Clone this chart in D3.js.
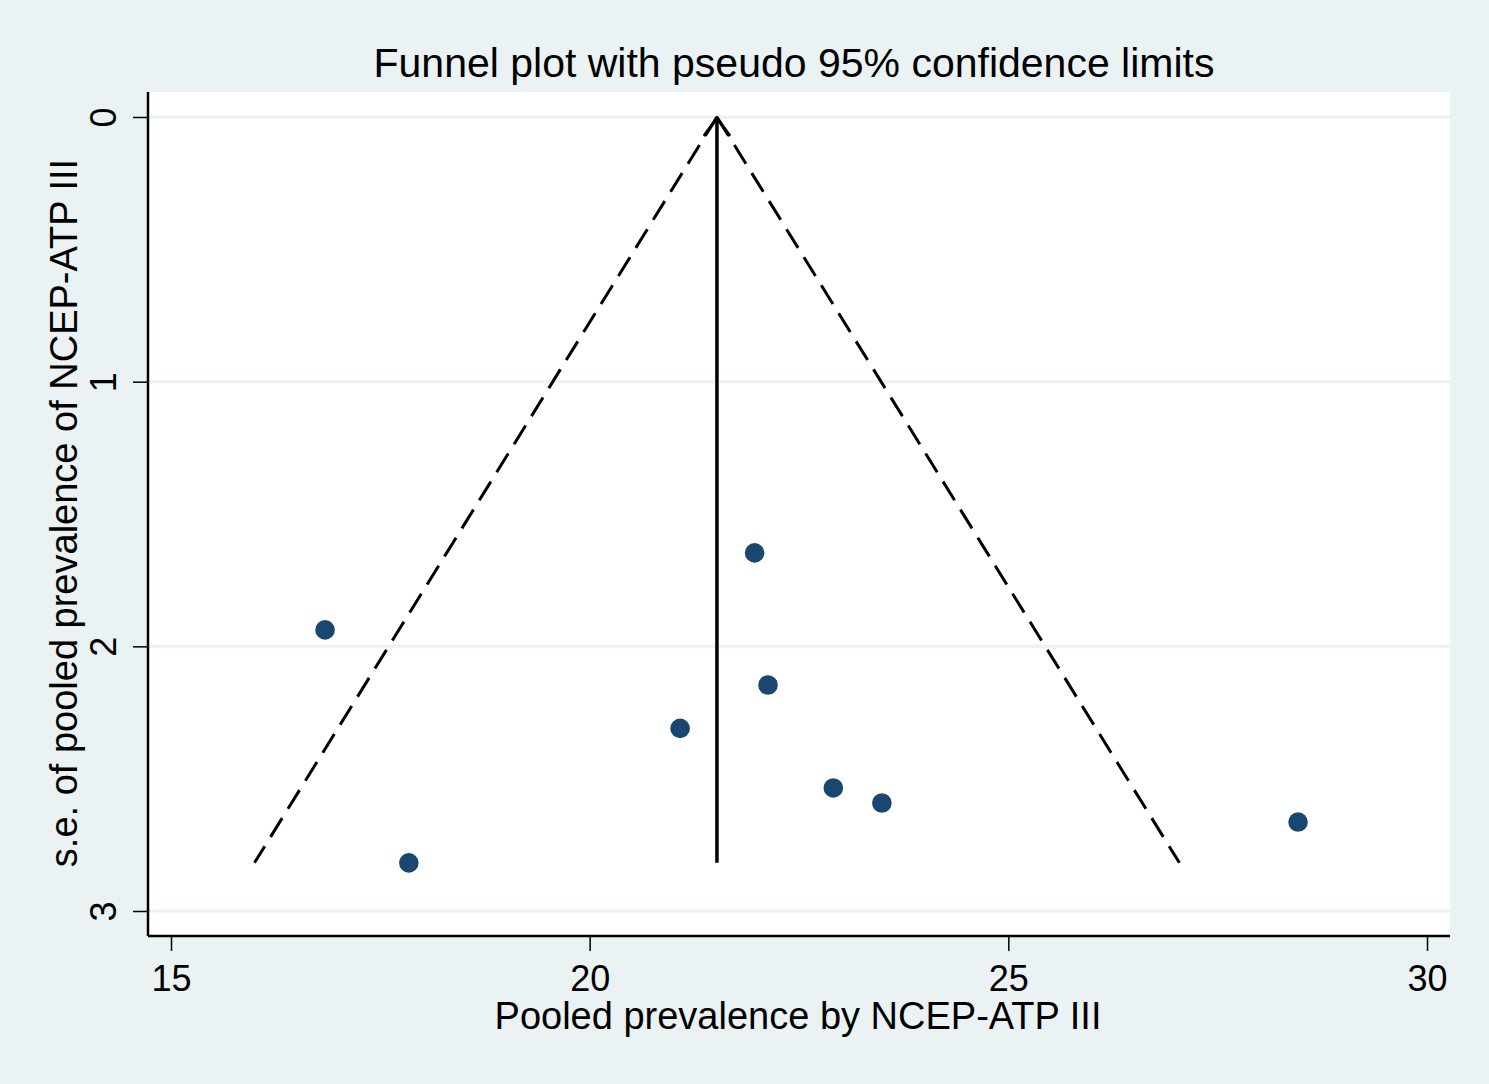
<!DOCTYPE html>
<html><head><meta charset="utf-8">
<script src="https://cdn.jsdelivr.net/npm/d3@7"></script>
<style>body{margin:0;background:#eaf2f3;}svg{display:block;}</style>
</head><body>
<script>
const prevalence = [16.84, 17.84, 21.08, 21.97, 22.13, 22.91, 23.49, 28.46];
const stdErr =     [1.938, 2.818, 2.310, 1.647, 2.146, 2.535, 2.592, 2.664];
const pooled = 21.52;
const xTicks = [15, 20, 25, 30];
const yTicks = [0, 1, 2, 3];
const title = "Funnel plot with pseudo 95% confidence limits";
const xTitle = "Pooled prevalence by NCEP-ATP III";
const yTitle = "s.e. of pooled prevalence of NCEP-ATP III";

const W = 1489, H = 1084;
const svg = d3.select("body").append("svg").attr("width", W).attr("height", H);
svg.append("rect").attr("width", W).attr("height", H).attr("fill", "#eaf2f3");

const L = 148, R = 1450, T = 92, B = 936;
const x = d3.scaleLinear().domain([15, 30]).range([171, 1427]);
const y = d3.scaleLinear().domain([0, 3]).range([117, 911]);

svg.append("rect").attr("x", L).attr("y", T).attr("width", R - L).attr("height", B - T).attr("fill", "#fff");

// gridlines
svg.append("g").selectAll("line").data(yTicks).join("line")
  .attr("x1", L).attr("x2", R).attr("y1", d => y(d)).attr("y2", d => y(d))
  .attr("stroke", "#eaf2f3").attr("stroke-width", 3);

const font = "'Liberation Sans', Arial, sans-serif";
// axes
const xAxis = svg.append("g").attr("transform", `translate(0,${B})`)
  .call(d3.axisBottom(x).tickValues(xTicks).tickSize(15).tickPadding(14).tickFormat(d3.format("d")));
xAxis.select(".domain").attr("d", `M${L},0H${R}`).attr("stroke", "#000").attr("stroke-width", 2.5);
xAxis.selectAll(".tick line").attr("stroke", "#000").attr("stroke-width", 1.5);
xAxis.selectAll(".tick text").attr("font-family", font).attr("font-size", 36).attr("fill", "#000").attr("dy", "0.72em");

const yAxis = svg.append("g").attr("transform", `translate(${L},0)`)
  .call(d3.axisLeft(y).tickValues(yTicks).tickSize(15).tickPadding(0).tickFormat(d3.format("d")));
yAxis.select(".domain").attr("d", `M0,${T}V${B}`).attr("stroke", "#000").attr("stroke-width", 2.5);
yAxis.selectAll(".tick line").attr("stroke", "#000").attr("stroke-width", 1.5);
yAxis.selectAll(".tick text").attr("font-family", font).attr("font-size", 36).attr("fill", "#000")
  .attr("x", 0).attr("dy", 0).attr("text-anchor", "middle")
  .attr("transform", "translate(-32,0) rotate(-90)");

// funnel
const seMax = d3.max(stdErr);
const funnelL = [[pooled, 0], [pooled - 1.96 * seMax, seMax]];
const funnelR = [[pooled, 0], [pooled + 1.96 * seMax, seMax]];
const line = d3.line().x(d => x(d[0])).y(d => y(d[1]));
[funnelL, funnelR].forEach(f => {
  svg.append("path").attr("d", line(f)).attr("fill", "none").attr("stroke", "#000")
    .attr("stroke-width", 3).attr("stroke-dasharray", "22,11");
});

// center line with arrow head
svg.append("path").attr("d", line([[pooled, seMax], [pooled, 0]]))
  .attr("stroke", "#000").attr("stroke-width", 3.5).attr("fill", "none");
svg.append("path").attr("d", `M${x(pooled) - 13},${y(0) + 19}L${x(pooled)},${y(0) + 1}L${x(pooled) + 13},${y(0) + 19}`)
  .attr("stroke", "#000").attr("stroke-width", 3).attr("fill", "none");

// points
svg.append("g").selectAll("circle").data(prevalence).join("circle")
  .attr("cx", d => x(d)).attr("cy", (d, i) => y(stdErr[i])).attr("r", 9.8).attr("fill", "#1a476f");

// titles
svg.append("text").attr("x", 794).attr("y", 77).attr("text-anchor", "middle")
  .attr("font-family", font).attr("font-size", 41).attr("fill", "#000").text(title);
svg.append("text").attr("x", 798).attr("y", 1029).attr("text-anchor", "middle")
  .attr("font-family", font).attr("font-size", 38).attr("fill", "#000").text(xTitle);
svg.append("text").attr("transform", "translate(77,513) rotate(-90)").attr("text-anchor", "middle")
  .attr("font-family", font).attr("font-size", 38).attr("fill", "#000").text(yTitle);
</script>
</body></html>
